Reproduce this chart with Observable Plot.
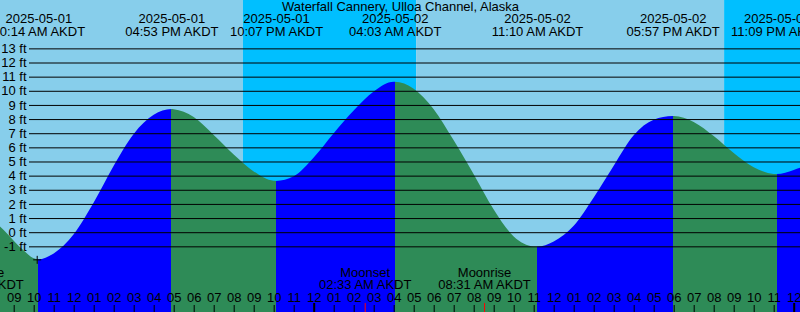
<!DOCTYPE html>
<html><head><meta charset="utf-8">
<script src="https://cdn.jsdelivr.net/npm/d3@7"></script>
<script src="https://cdn.jsdelivr.net/npm/@observablehq/plot@0.6"></script>
<style>
html,body{margin:0;padding:0;background:#fff;}
#chart{width:800px;height:312px;overflow:hidden;}
</style></head><body><div id="chart"></div>
<script>
const title = "Waterfall Cannery, Ulloa Channel, Alaska";
// hours since 2025-05-01 00:00 AKDT
const tideHours = [8, 8.5, 9, 9.5, 10, 10.233, 11, 12, 13, 14, 15, 16, 16.883, 17, 18, 19, 20, 21, 22, 22.117,
  23, 24, 25, 26, 27, 28, 28.05, 29, 30, 31, 32, 33, 34, 35, 35.167, 36, 37, 38, 39, 40, 41, 41.95, 42,
  43, 44, 45, 46, 47, 47.15, 48, 48.5];
const tideFeet = [0.83, 0.15, -0.6, -1.3, -1.85, -1.92, -1.5, -0.15, 2.1, 4.7, 6.95, 8.3, 8.71, 8.70, 8.15, 6.88, 5.5, 4.3, 3.63, 3.62,
  3.95, 5.28, 7.0, 8.6, 9.95, 10.64, 10.64, 10.15, 8.7, 6.5, 4.1, 1.6, -0.3, -1.01, -1.02, -0.65, 0.45, 2.45, 4.7, 6.85, 7.95, 8.21, 8.21,
  7.8, 6.8, 5.6, 4.6, 4.12, 4.11, 4.4, 4.65];
const extremeHours = [10.233, 16.883, 22.117, 28.05, 35.167, 41.95, 47.15];
const extremeDates = ["2025-05-01", "2025-05-01", "2025-05-01", "2025-05-02", "2025-05-02", "2025-05-02", "2025-05-02"];
const extremeTimes = ["10:14 AM AKDT", "04:53 PM AKDT", "10:07 PM AKDT", "04:03 AM AKDT", "11:10 AM AKDT", "05:57 PM AKDT", "11:09 PM AKDT"];
const moonHours = [7.167, 26.55, 32.517];
const moonNames = ["Moonrise", "Moonset", "Moonrise"];
const moonTimes = ["07:10 AM AKDT", "02:33 AM AKDT", "08:31 AM AKDT"];
const sunsetHours = [20.46, 44.52];
const sunriseHours = [29.12];
const feetTicks = d3.range(-1, 14);
const hourTicks = d3.range(9, 49);
const nowHour = 10.15, nowFeet = -1.92;

const xDomain = [8.315, 48.315];
const yDomain = [-5.644, 16.421];
const DAY = "#87CEEB", NIGHT = "#00BFFF", RISE = "#0000FF", FALL = "#2E8B57";

const tide = tideHours.map((t, i) => ({t, h: tideFeet[i]}));
const sun = [
  {a: xDomain[0] - 2, b: sunsetHours[0], c: DAY},
  {a: sunsetHours[0], b: sunriseHours[0], c: NIGHT},
  {a: sunriseHours[0], b: sunsetHours[1], c: DAY},
  {a: sunsetHours[1], b: xDomain[1] + 2, c: NIGHT}
];
const hourLabel = h => String((h % 12) || 12).padStart(2, "0");

const chart = Plot.plot({
  width: 800, height: 312, margin: 0,
  x: {domain: xDomain, axis: null},
  y: {domain: yDomain, axis: null},
  style: {fontFamily: "'Liberation Sans', Arial, sans-serif", fontSize: "13px", background: "transparent", color: "black"},
  marks: [
    Plot.rect(sun, {x1: "a", x2: "b", fill: "c"}),
    Plot.areaY(tide, {x: "t", y1: yDomain[0], y2: "h", fill: "url(#tideFill)", curve: "monotone-x"}),
    Plot.ruleY(feetTicks, {y: d => d, stroke: "black", insetLeft: 29}),
    Plot.text(feetTicks, {y: d => d, text: d => `${d} ft`, frameAnchor: "left", dx: 26, textAnchor: "end", fill: "black"}),
    Plot.text([title], {text: d => d, frameAnchor: "top", lineAnchor: "top", dy: 1.5, fill: "black"}),
    Plot.text(extremeHours, {x: d => d, text: (d, i) => extremeDates[i] + "\n" + extremeTimes[i], frameAnchor: "top", lineAnchor: "top", dy: 14.1, lineHeight: 0.954, fill: "black"}),
    Plot.text(moonHours, {x: d => d, text: (d, i) => moonNames[i] + "\n" + moonTimes[i], frameAnchor: "top", lineAnchor: "top", dy: 268.5, lineHeight: 0.9, fill: "black"}),
    Plot.text(hourTicks, {x: d => d, text: hourLabel, frameAnchor: "top", lineAnchor: "top", dy: 292.5, fill: "black"}),
    Plot.ruleX(hourTicks.filter(h => h % 24 !== 0), {x: d => d, insetTop: 305, stroke: "black"}),
    Plot.ruleX(hourTicks.filter(h => h % 24 === 0), {x: d => d, insetTop: 303, stroke: "black", strokeWidth: 2}),
    Plot.ruleX(moonHours, {x: d => d, insetTop: 303, stroke: "red"}),
    Plot.dot([{t: nowHour, h: nowFeet}], {x: "t", y: "h", symbol: "plus", r: 2.7, stroke: "black", strokeWidth: 1})
  ]
});

// hard-stop gradient: blue while rising, green while falling
const xs = chart.scale("x");
const svg = d3.select(chart);
const grad = svg.insert("defs", ":first-child").append("linearGradient")
  .attr("id", "tideFill").attr("gradientUnits", "userSpaceOnUse")
  .attr("x1", 0).attr("x2", 800).attr("y1", 0).attr("y2", 0);
const bounds = [xDomain[0] - 2, ...extremeHours, xDomain[1] + 2];
for (let i = 0; i < bounds.length - 1; i++) {
  const a = Math.max(0, Math.min(1, xs.apply(bounds[i]) / 800));
  const b = Math.max(0, Math.min(1, xs.apply(bounds[i + 1]) / 800));
  const c = i % 2 === 0 ? FALL : RISE;
  grad.append("stop").attr("offset", a).attr("stop-color", c);
  grad.append("stop").attr("offset", b).attr("stop-color", c);
}
document.getElementById("chart").appendChild(chart);
</script></body></html>
